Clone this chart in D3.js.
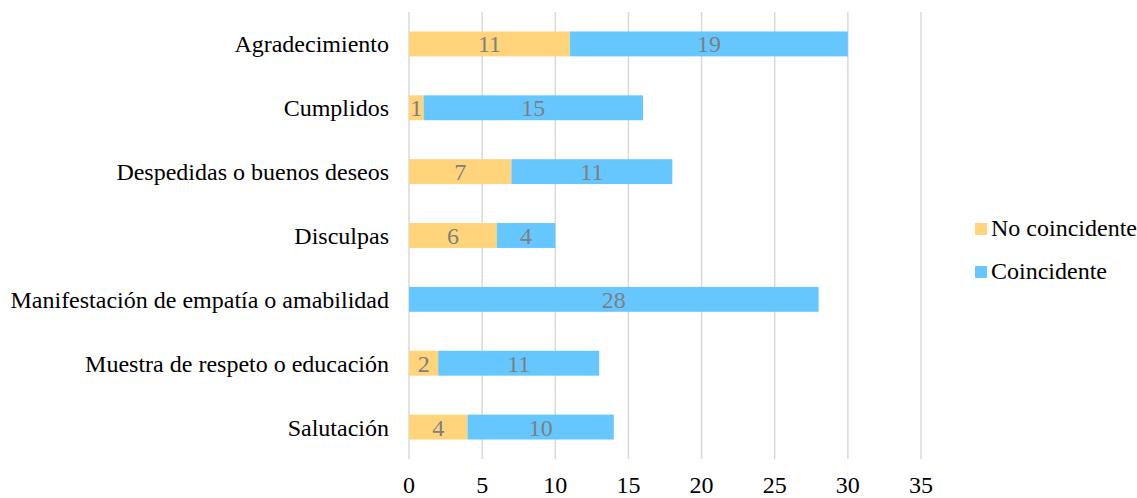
<!DOCTYPE html>
<html><head><meta charset="utf-8">
<script src="https://cdn.jsdelivr.net/npm/d3@7"></script>
<style>body{margin:0;background:#fff}svg{display:block;font-family:"Liberation Serif","Times New Roman",serif}</style>
</head><body><svg id="c" width="1137" height="498"></svg>
<script>
const categories = ["Agradecimiento","Cumplidos","Despedidas o buenos deseos","Disculpas","Manifestación de empatía o amabilidad","Muestra de respeto o educación","Salutación"];
const noCoincidente = [11,1,7,6,0,2,4];
const coincidente = [19,15,11,4,28,11,10];
const seriesNames = ["No coincidente","Coincidente"];
const seriesColors = ["#FFD47A","#66C7FF"];
const xTicks = [0,5,10,15,20,25,30,35];

const svg = d3.select("#c");
const x = d3.scaleLinear().domain([0,35]).range([409,921]);
const y = d3.scaleBand().domain(categories).range([12,459]).paddingInner(0.61).paddingOuter(0.305);

svg.append("g").selectAll("line").data(xTicks).join("line")
  .attr("x1",d=>x(d)).attr("x2",d=>x(d)).attr("y1",12).attr("y2",459)
  .attr("stroke","#d9d9d9").attr("stroke-width",1.5);

const rows = categories.map((c,i)=>({c, a:noCoincidente[i], b:coincidente[i]}));
const stack = d3.stack().keys(["a","b"])(rows);

stack.forEach((s,si)=>{
  const g = svg.append("g");
  g.selectAll("rect").data(s).join("rect")
    .attr("x",d=>x(d[0])).attr("width",d=>x(d[1])-x(d[0]))
    .attr("y",d=>y(d.data.c)).attr("height",y.bandwidth())
    .attr("fill",seriesColors[si]);
  g.selectAll("text").data(s.filter(d=>d[1]-d[0]>0)).join("text")
    .attr("x",d=>(x(d[0])+x(d[1]))/2).attr("y",d=>y(d.data.c)+y.bandwidth()/2+8.5)
    .attr("text-anchor","middle").attr("font-size",24).attr("fill","#7f7f7f")
    .text(d=>d[1]-d[0]);
});

svg.append("g").selectAll("text").data(categories).join("text")
  .attr("x",389).attr("y",d=>y(d)+y.bandwidth()/2+8.5)
  .attr("text-anchor","end").attr("font-size",24).attr("fill","#000").text(d=>d);

svg.append("g").selectAll("text").data(xTicks).join("text")
  .attr("x",d=>x(d)).attr("y",493).attr("text-anchor","middle")
  .attr("font-size",24).attr("fill","#000").text(d=>d);

const lg = svg.append("g");
seriesNames.forEach((n,i)=>{
  lg.append("rect").attr("x",975).attr("y",223+i*43).attr("width",12).attr("height",12).attr("fill",seriesColors[i]);
  lg.append("text").attr("x",991).attr("y",236+i*43).attr("font-size",24).attr("fill","#000").text(n);
});
</script></body></html>
